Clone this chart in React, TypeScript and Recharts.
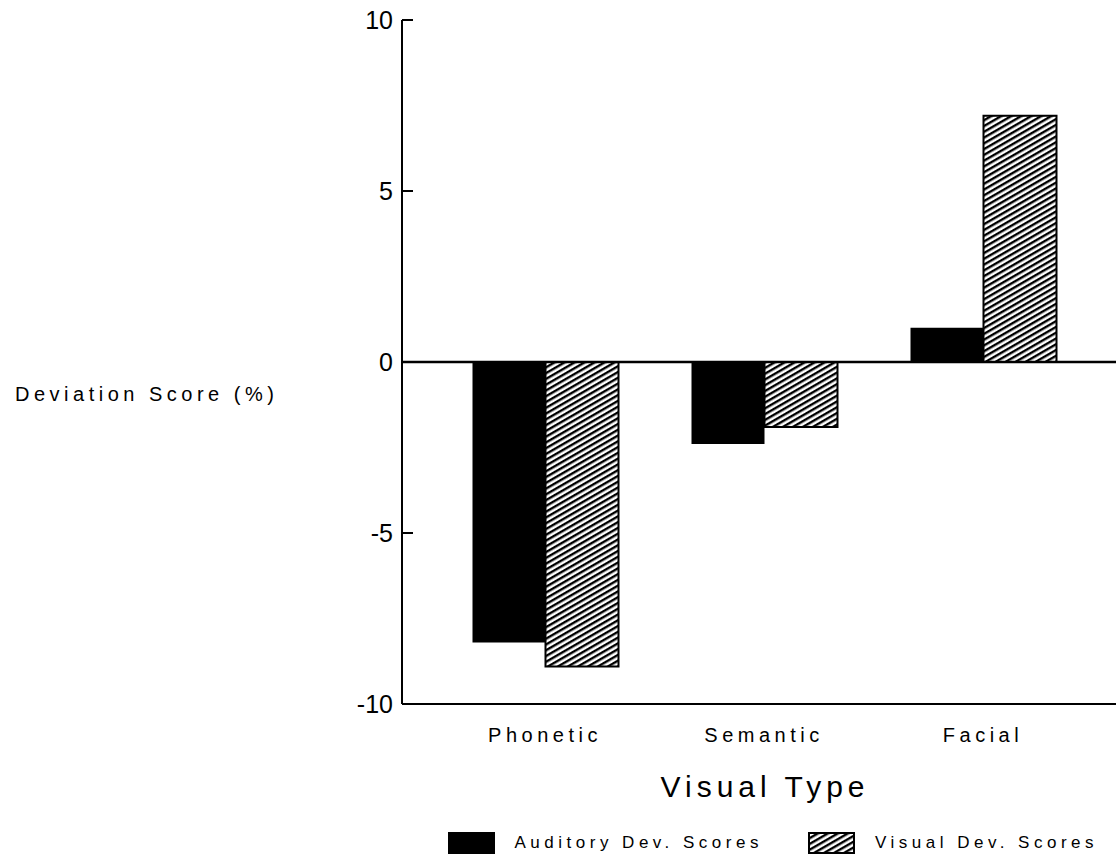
import { BarChart, Bar, XAxis, YAxis, ReferenceLine, Legend, Label } from 'recharts'

const CATEGORIES = ['Phonetic', 'Semantic', 'Facial']
const AUDITORY_DEV = [-8.2, -2.4, 1.0]
const VISUAL_DEV = [-8.9, -1.9, 7.2]
const Y_TICKS = [-10, -5, 0, 5, 10]

const data = CATEGORIES.map((type, i) => ({
  type,
  auditory: AUDITORY_DEV[i],
  visual: VISUAL_DEV[i],
}))

const FONT = '"Liberation Sans", Arial, sans-serif'

// diagonal hatching used by the visual series and its legend key
function HatchDefs({ id }: { id: string }) {
  return (
    <defs>
      <pattern id={id} width={5} height={5} patternUnits="userSpaceOnUse" patternTransform="rotate(-30)">
        <rect width={5} height={5} fill="#fff" />
        <rect width={5} height={2.4} fill="#000" />
      </pattern>
    </defs>
  )
}

function LegendBox() {
  return (
    <div
      style={{
        display: 'flex',
        justifyContent: 'flex-end',
        alignItems: 'center',
        paddingRight: 18,
        fontFamily: FONT,
        fontSize: 17,
        letterSpacing: 4.5,
        color: '#000',
      }}
    >
      <svg width={47} height={22}>
        <rect x={0} y={0} width={47} height={22} fill="#000" />
      </svg>
      <span style={{ marginLeft: 20, marginRight: 45 }}>Auditory Dev. Scores</span>
      <svg width={47} height={22}>
        <HatchDefs id="hatch-key" />
        <rect x={1} y={1} width={45} height={20} fill="url(#hatch-key)" stroke="#000" strokeWidth={2} />
      </svg>
      <span style={{ marginLeft: 20 }}>Visual Dev. Scores</span>
    </div>
  )
}

export default function App() {
  return (
    <div style={{ position: 'absolute', left: 0, top: 0, background: '#fff' }}>
      <BarChart
        width={1116}
        height={865}
        data={data}
        margin={{ top: 20, right: 0, bottom: 51, left: 0 }}
        barGap={0}
      >
        <HatchDefs id="hatch" />
        <XAxis
          dataKey="type"
          height={110}
          padding={{ left: 33.5, right: 23.5 }}
          axisLine={{ stroke: '#000', strokeWidth: 2 }}
          tickLine={false}
          tickMargin={18}
          tick={{ fill: '#000', fontSize: 20, fontFamily: FONT, letterSpacing: 4.5 }}
        >
          <Label
            value="Visual Type"
            position="insideTop"
            offset={72}
            dx={6}
            fill="#000"
            fontSize={30}
            fontFamily={FONT}
            letterSpacing={5}
          />
        </XAxis>
        <YAxis
          type="number"
          domain={[-10, 10]}
          ticks={Y_TICKS}
          width={402}
          axisLine={{ stroke: '#000', strokeWidth: 2 }}
          tickLine={{ stroke: '#000', strokeWidth: 2 }}
          tickSize={-11}
          tickMargin={20}
          tick={{ fill: '#000', fontSize: 25, fontFamily: FONT }}
        >
          <Label
            value="Deviation Score (%)"
            position="insideLeft"
            offset={15}
            dy={32}
            fill="#000"
            fontSize={20}
            fontFamily={FONT}
            letterSpacing={4.5}
          />
        </YAxis>
        <ReferenceLine y={0} stroke="#000" strokeWidth={2.5} />
        <Bar dataKey="auditory" fill="#000" barSize={73} isAnimationActive={false} />
        <Bar
          dataKey="visual"
          fill="url(#hatch)"
          stroke="#000"
          strokeWidth={2}
          barSize={73}
          isAnimationActive={false}
        />
        <Legend
          verticalAlign="middle"
          align="center"
          layout="horizontal"
          wrapperStyle={{ top: 832, left: 0, width: 1116 }}
          content={() => <LegendBox />}
        />
      </BarChart>
    </div>
  )
}
